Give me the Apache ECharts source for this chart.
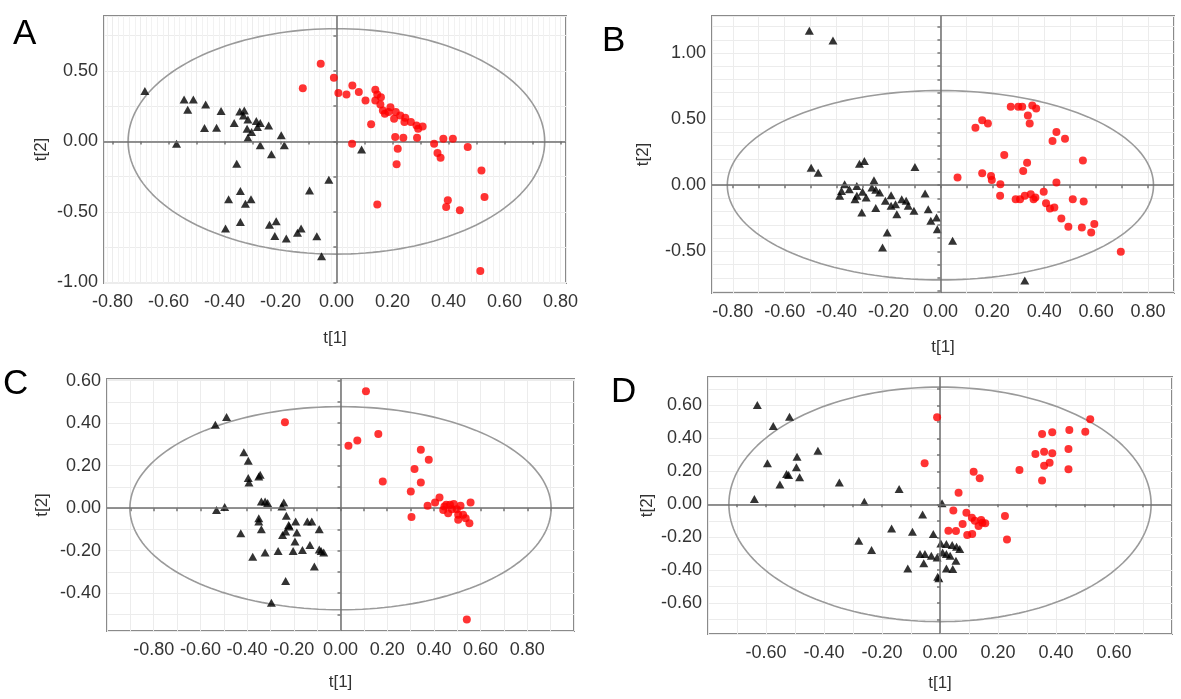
<!DOCTYPE html>
<html>
<head>
<meta charset="utf-8">
<script src="https://cdn.jsdelivr.net/npm/echarts@6/dist/echarts.min.js"></script>
<style>html,body{margin:0;padding:0;background:#fff}#c{width:1181px;height:699px}</style>
</head>
<body>
<div id="c"></div>
<script>
// ---------- DATA (score plots t[1] vs t[2]) ----------
const panelLetters = ['A', 'B', 'C', 'D'];

const A_triangles = [[-0.684,0.357],[-0.544,0.298],[-0.511,0.298],[-0.531,0.225],[-0.467,0.262],[-0.412,0.215],[-0.345,0.213],[-0.329,0.220],[-0.365,0.130],[-0.316,0.156],[-0.286,0.144],[-0.272,0.130],[-0.242,0.113],[-0.471,0.095],[-0.428,0.097],[-0.319,0.090],[-0.303,0.066],[-0.282,0.102],[-0.316,0.026],[-0.197,0.043],[-0.186,-0.028],[-0.272,-0.028],[-0.232,-0.092],[-0.571,-0.017],[-0.356,-0.158],[0.090,-0.057],[-0.027,-0.272],[-0.096,-0.348],[-0.385,-0.411],[-0.343,-0.352],[-0.325,-0.442],[-0.305,-0.411],[-0.343,-0.572],[-0.396,-0.619],[-0.239,-0.591],[-0.215,-0.567],[-0.220,-0.671],[-0.179,-0.690],[-0.139,-0.648],[-0.126,-0.619],[-0.070,-0.674],[-0.053,-0.816],[-0.332,0.184]];
const A_circles = [[-0.056,0.551],[-0.009,0.452],[-0.120,0.378],[0.007,0.343],[0.036,0.333],[0.057,0.397],[0.080,0.350],[0.104,0.291],[0.139,0.366],[0.146,0.333],[0.159,0.314],[0.139,0.291],[0.157,0.262],[0.166,0.220],[0.186,0.208],[0.173,0.196],[0.212,0.208],[0.228,0.184],[0.206,0.161],[0.246,0.168],[0.243,0.137],[0.266,0.137],[0.286,0.113],[0.308,0.106],[0.292,0.090],[0.124,0.121],[0.210,0.031],[0.239,0.026],[0.288,0.026],[0.382,0.019],[0.416,0.019],[0.056,-0.017],[0.219,-0.052],[0.349,-0.017],[0.361,-0.083],[0.372,-0.116],[0.469,-0.040],[0.215,-0.163],[0.518,-0.206],[0.529,-0.395],[0.398,-0.418],[0.392,-0.466],[0.441,-0.489],[0.146,-0.447],[0.514,-0.920],[0.193,0.243]];

const B_triangles = [[-0.505,1.168],[-0.414,1.095],[-0.498,0.133],[-0.471,0.095],[-0.312,0.163],[-0.293,0.183],[-0.098,0.138],[-0.369,0.008],[-0.381,-0.043],[-0.351,-0.030],[-0.322,-0.005],[-0.300,-0.050],[-0.256,0.038],[-0.249,-0.035],[-0.286,-0.093],[-0.329,-0.106],[-0.234,-0.055],[-0.212,-0.118],[-0.190,-0.075],[-0.173,-0.143],[-0.149,-0.106],[-0.124,-0.156],[-0.102,-0.193],[-0.168,-0.219],[-0.249,-0.173],[-0.303,-0.206],[-0.059,-0.063],[-0.047,-0.181],[-0.037,-0.269],[-0.015,-0.244],[-0.012,-0.332],[-0.205,-0.357],[-0.223,-0.470],[0.047,-0.420],[0.325,-0.721],[-0.388,-0.080],[-0.132,-0.118],[-0.322,-0.080],[-0.264,-0.018],[-0.190,-0.156]];
const B_circles = [[0.066,0.058],[0.135,0.435],[0.161,0.492],[0.183,0.467],[0.161,0.090],[0.195,0.070],[0.198,0.040],[0.231,0.008],[0.246,0.229],[0.230,-0.080],[0.271,0.593],[0.300,0.593],[0.315,0.593],[0.354,0.603],[0.369,0.580],[0.337,0.528],[0.344,0.467],[0.334,0.171],[0.319,0.108],[0.290,-0.106],[0.307,-0.106],[0.325,-0.080],[0.348,-0.068],[0.366,-0.093],[0.359,-0.106],[0.398,-0.050],[0.407,-0.136],[0.422,-0.176],[0.439,-0.168],[0.432,0.334],[0.447,0.402],[0.480,0.352],[0.447,0.020],[0.466,-0.251],[0.493,-0.314],[0.510,-0.106],[0.549,0.188],[0.552,-0.123],[0.545,-0.319],[0.581,-0.357],[0.593,-0.294],[0.695,-0.503]];

const C_triangles = [[-0.536,0.393],[-0.488,0.429],[-0.414,0.263],[-0.395,0.223],[-0.395,0.142],[-0.392,0.121],[-0.350,0.149],[-0.344,0.157],[-0.339,0.031],[-0.323,0.031],[-0.312,0.024],[-0.531,-0.008],[-0.496,0.005],[-0.350,-0.047],[-0.350,-0.063],[-0.339,-0.099],[-0.427,-0.118],[-0.243,0.027],[-0.251,0.008],[-0.232,-0.036],[-0.222,-0.079],[-0.235,-0.110],[-0.248,-0.126],[-0.192,-0.063],[-0.187,-0.115],[-0.195,-0.157],[-0.142,-0.063],[-0.123,-0.063],[-0.091,-0.099],[-0.131,-0.173],[-0.163,-0.197],[-0.203,-0.201],[-0.267,-0.201],[-0.323,-0.209],[-0.376,-0.228],[-0.091,-0.194],[-0.072,-0.208],[-0.112,-0.275],[-0.235,-0.343],[-0.296,-0.445],[-0.083,-0.201],[-0.219,-0.086]];
const C_circles = [[0.109,0.550],[-0.238,0.404],[0.034,0.294],[0.072,0.318],[0.162,0.349],[0.181,0.126],[0.344,0.275],[0.378,0.228],[0.317,0.184],[0.344,0.121],[0.301,0.079],[0.304,-0.042],[0.373,0.011],[0.405,0.027],[0.424,0.050],[0.440,-0.008],[0.453,0.016],[0.469,0.016],[0.485,0.020],[0.477,-0.005],[0.498,-0.005],[0.504,-0.031],[0.504,-0.055],[0.514,0.011],[0.525,-0.031],[0.536,-0.047],[0.552,-0.071],[0.557,0.027],[0.541,-0.524],[0.461,-0.024],[0.445,0.008]];

const D_triangles = [[-0.630,0.603],[-0.519,0.532],[-0.575,0.476],[-0.421,0.326],[-0.493,0.289],[-0.595,0.249],[-0.495,0.225],[-0.529,0.184],[-0.522,0.178],[-0.484,0.164],[-0.552,0.121],[-0.347,0.132],[-0.640,0.032],[-0.261,0.016],[-0.141,0.093],[0.007,0.006],[-0.060,-0.061],[-0.167,-0.146],[-0.095,-0.166],[-0.023,-0.180],[-0.280,-0.221],[-0.236,-0.277],[-0.069,-0.302],[-0.052,-0.302],[-0.030,-0.312],[-0.010,-0.322],[0.009,-0.292],[0.022,-0.302],[0.003,-0.237],[0.022,-0.241],[0.042,-0.247],[0.057,-0.257],[0.068,-0.271],[0.055,-0.342],[-0.056,-0.358],[-0.111,-0.389],[0.022,-0.389],[0.044,-0.393],[-0.008,-0.439],[-0.004,-0.449],[0.035,-0.312]];
const D_circles = [[-0.010,0.528],[-0.053,0.249],[0.116,0.198],[0.137,0.158],[0.064,0.071],[0.046,-0.038],[0.091,-0.051],[0.110,-0.081],[0.120,-0.099],[0.142,-0.095],[0.146,-0.111],[0.156,-0.115],[0.133,-0.132],[0.078,-0.119],[0.029,-0.160],[0.055,-0.162],[0.094,-0.186],[0.111,-0.180],[0.224,-0.071],[0.231,-0.213],[0.274,0.209],[0.329,0.306],[0.352,0.427],[0.387,0.437],[0.359,0.320],[0.387,0.310],[0.378,0.253],[0.359,0.235],[0.352,0.144],[0.446,0.451],[0.443,0.336],[0.443,0.213],[0.501,0.441],[0.518,0.516]];

// Hotelling T2 ellipse semi-axes [t1, t2] per panel
const ellipseA = [0.744, 0.800];
const ellipseB = [0.821, 0.716];
const ellipseC = [0.902, 0.478];
const ellipseD = [0.728, 0.712];

// axis ranges
const xRangeA = [-0.83, 0.82],  yRangeA = [-1.005, 0.89];
const xRangeB = [-0.88, 0.90],  yRangeB = [-0.815, 1.28];
const xRangeC = [-1.0, 1.0],    yRangeC = [-0.578, 0.608];
const xRangeD = [-0.80, 0.80],  yRangeD = [-0.787, 0.773];

const xTitle = 't[1]', yTitle = 't[2]';

// ---------- CHART ----------
const FONT = '"Liberation Sans", Arial, sans-serif';
const panels = [
  {grid:{left:104, top:16, width:462, height:267}, xr:xRangeA, yr:yRangeA, xt:0.1, yt:0.25, xs:0.2, ys:0.5, ell:ellipseA, tri:A_triangles, cir:A_circles, xGap:47, yGap:54, letter:[13,34.5], minorX:true},
  {grid:{left:712, top:16, width:462, height:277}, xr:xRangeB, yr:yRangeB, xt:0.1, yt:0.1, xs:0.2, ys:0.5, ell:ellipseB, tri:B_triangles, cir:B_circles, xGap:46, yGap:60, letter:[602,41]},
  {grid:{left:107, top:379, width:467, height:252}, xr:xRangeC, yr:yRangeC, xt:0.1, yt:0.1, xs:0.2, ys:0.2, ell:ellipseC, tri:C_triangles, cir:C_circles, xGap:43, yGap:56, letter:[3,384]},
  {grid:{left:708, top:377, width:464, height:257}, xr:xRangeD, yr:yRangeD, xt:0.1, yt:0.1, xs:0.2, ys:0.2, ell:ellipseD, tri:D_triangles, cir:D_circles, xGap:41, yGap:52, letter:[611,392]}
];

function fmt(step) {
  return function (v) {
    const r = v / step;
    if (Math.abs(r - Math.round(r)) > 1e-6) return '';
    const val = Math.round(v * 100) / 100;
    return (Math.abs(val) < 1e-9 ? 0 : val).toFixed(2);
  };
}
function ellipsePts(r) {
  const pts = [];
  for (let a = 0; a <= 360; a += 2) {
    const t = a * Math.PI / 180;
    pts.push([r[0] * Math.cos(t), r[1] * Math.sin(t)]);
  }
  return pts;
}

const grids = [], xAxes = [], yAxes = [], series = [], graphics = [];
panels.forEach((p, i) => {
  grids.push(Object.assign({show:true, borderColor:'#8a8a8a', borderWidth:2, backgroundColor:'#fff'}, p.grid));
  const common = {
    type:'value', gridIndex:i,
    axisLine:{show:false},
    axisTick:{show:true, length:3, lineStyle:{color:'#777', width:1.5}},
    splitLine:{show:true, lineStyle:{color:'#ececec', width:1}},
    nameTextStyle:{fontFamily:FONT, fontSize:17, color:'#333'},
    nameLocation:'middle'
  };
  xAxes.push(Object.assign({}, common, {
    min:p.xr[0], max:p.xr[1], minInterval:p.xt, maxInterval:p.xt,
    name:xTitle, nameGap:p.xGap,
    minorTick:{show:false},
    minorSplitLine:{show:!!p.minorX, lineStyle:{color:'#f2f2f2'}},
    axisLabel:{formatter:fmt(p.xs), showMinLabel:false, showMaxLabel:false, fontFamily:FONT, fontSize:18, color:'#333', margin:10}
  }));
  yAxes.push(Object.assign({}, common, {
    min:p.yr[0], max:p.yr[1], minInterval:p.yt, maxInterval:p.yt,
    name:yTitle, nameGap:p.yGap, nameRotate:90,
    axisLabel:{formatter:fmt(p.ys), showMinLabel:false, showMaxLabel:false, fontFamily:FONT, fontSize:18, color:'#333', margin:6}
  }));
  series.push({
    type:'line', xAxisIndex:i, yAxisIndex:i, data:ellipsePts(p.ell), showSymbol:false, smooth:false,
    silent:true, z:2, lineStyle:{color:'#9a9a9a', width:1.6}, animation:false,
    markLine:{silent:true, symbol:'none', label:{show:false}, lineStyle:{color:'#6e6e6e', width:1.5, type:'solid'}, data:[{xAxis:0},{yAxis:0}], animation:false}
  });
  series.push({
    type:'scatter', xAxisIndex:i, yAxisIndex:i, data:p.tri, symbol:'triangle', symbolSize:[9,8],
    itemStyle:{color:'#000'}, z:4, animation:false
  });
  series.push({
    type:'scatter', xAxisIndex:i, yAxisIndex:i, data:p.cir, symbol:'circle', symbolSize:8,
    itemStyle:{color:'#ff0000'}, z:5, animation:false
  });
  graphics.push({type:'text', x:p.letter[0], y:p.letter[1], style:{text:panelLetters[i], fontFamily:FONT, fontSize:35, fill:'#000', verticalAlign:'middle', textVerticalAlign:'middle', align:'left'}});
});

const chart = echarts.init(document.getElementById('c'), null, {renderer:'canvas'});
chart.setOption({animation:false, backgroundColor:'#fff', grid:grids, xAxis:xAxes, yAxis:yAxes, series:series, graphic:graphics});
</script>
</body>
</html>
